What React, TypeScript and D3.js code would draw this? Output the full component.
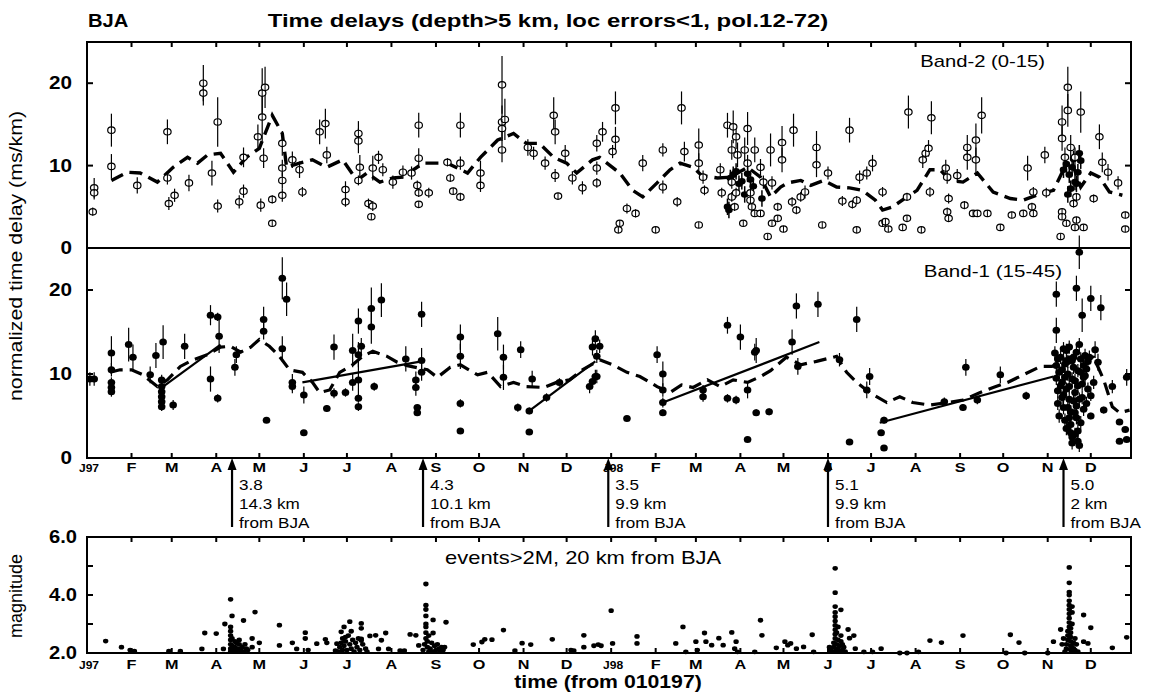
import React from "react";
import * as d3 from "d3";

// ---------- DATA ----------
const monthDays = [0, 31, 59, 90, 120, 151, 181, 212, 243, 273, 304, 334, 365, 396, 424, 455, 485, 516, 546, 577, 608, 638, 669, 699];
const monthLabels = ["J97", "F", "M", "A", "M", "J", "J", "A", "S", "O", "N", "D", "J98", "F", "M", "A", "M", "J", "J", "A", "S", "O", "N", "D"];
const delayTicks = [0, 10, 20];
const magTicks = [2, 3, 4, 5, 6];
const magLabels = ["2.0", "", "4.0", "", "6.0"];

// Band-2 (0-15): [day, delay, error]
const band2Points: number[][] = [
  [4,4.4,0.5],[5,7.3,1.2],[5,6.7,0.8],[17,14.3,2.0],[17,9.9,1.5],[35,7.6,1.0],[56,14.1,1.5],[56,8.5,0.8],[57,5.4,0.8],[61,6.4,0.8],[71,7.9,1.0],[81,20.0,2.2],[81,18.8,1.5],[87,9.1,1.5],[91,15.3,3.0],[91,5.1,0.8],[106,5.6,0.8],[109,6.9,0.8],[109,11.0,1.2],[121,5.2,0.8],[119,13.5,1.5],[122,18.8,3.0],[124,19.5,2.5],[122,15.9,3.0],[123,10.9,1.2],[129,5.9,0.5],[129,3.0,0.3],[136,6.4,0.8],[136,8.2,1.0],[136,9.7,1.0],[136,12.7,1.5],[143,10.7,1.0],[148,9.5,1.0],[150,6.8,0.6],[162,14.1,1.5],[166,15.1,1.8],[167,11.3,1.0],[180,7.1,1.0],[180,5.6,0.6],[189,13.9,1.5],[189,13.0,1.5],[190,9.8,1.5],[189,8.2,0.6],[196,5.4,0.6],[199,5.1,0.6],[198,3.8,0.3],[199,9.7,1.5],[203,11.0,0.8],[206,9.5,0.8],[213,8.0,0.8],[220,9.2,0.8],[226,9.1,0.8],[230,7.6,0.6],[231,6.7,0.5],[231,5.3,0.4],[231,10.9,1.2],[231,14.9,1.5],[238,6.7,0.6],[251,10.4,0.5],[253,8.5,0.5],[255,6.9,0.4],[260,14.9,1.5],[260,10.3,0.8],[260,6.2,0.5],[274,9.1,1.5],[274,7.6,0.8],[289,19.8,3.5],[289,15.3,2.0],[289,14.5,1.5],[291,15.6,2.5],[289,11.9,1.5],[307,12.2,1.0],[311,11.5,0.8],[319,10.3,0.8],[325,16.1,2.2],[326,14.1,1.5],[326,8.8,0.8],[328,6.3,0.4],[333,11.5,1.0],[338,8.5,0.8],[345,7.3,0.8],[355,7.9,0.6],[355,12.7,1.0],[355,9.7,0.8],[359,14.1,1.2],[366,11.7,0.8],[368,17.0,2.0],[368,13.2,1.5],[370,2.2,0.3],[371,3.0,0.3],[376,4.8,0.6],[382,4.2,0.5],[387,10.3,1.0],[396,2.2,0.3],[401,11.9,0.8],[401,7.4,0.8],[411,5.6,0.6],[414,17.0,2.0],[416,11.7,1.2],[426,2.8,0.3],[426,12.5,2.0],[426,10.3,1.2],[429,8.6,0.8],[430,7.0,0.6],[441,9.5,0.8],[442,6.7,0.6],[446,14.9,1.5],[449,11.9,1.2],[450,14.7,2.0],[452,13.5,1.5],[449,8.0,0.8],[449,6.2,0.6],[451,5.0,0.5],[452,6.7,0.6],[453,11.3,1.5],[457,3.0,0.3],[458,11.9,1.5],[460,10.3,1.0],[460,14.5,2.0],[462,6.7,0.6],[462,5.8,0.5],[463,5.0,0.5],[465,4.2,0.4],[469,4.2,0.4],[465,11.9,1.5],[474,1.4,0.2],[476,11.9,2.0],[477,7.9,0.8],[477,3.0,0.3],[481,3.6,0.3],[481,5.0,0.5],[469,9.8,1.0],[471,8.0,0.8],[484,12.8,2.0],[484,10.7,1.5],[485,2.3,0.3],[491,5.6,0.6],[492,14.3,2.0],[494,4.6,0.5],[497,6.2,0.6],[500,6.8,0.8],[508,12.2,2.0],[508,10.1,1.5],[512,2.8,0.3],[516,9.1,0.8],[526,5.7,0.6],[531,14.3,1.5],[533,5.3,0.5],[536,2.2,0.3],[536,5.8,0.5],[538,8.6,0.8],[543,9.1,0.8],[547,10.3,1.0],[554,6.8,0.6],[554,3.0,0.3],[556,3.2,0.3],[558,2.3,0.3],[568,2.5,0.3],[571,3.6,0.4],[571,6.2,0.5],[572,16.5,2.0],[581,2.2,0.3],[582,10.7,1.0],[584,11.5,1.0],[586,12.1,1.0],[588,15.8,2.0],[587,6.8,0.6],[598,9.7,1.0],[599,8.6,0.8],[600,6.0,0.6],[599,4.4,0.5],[600,3.6,0.4],[606,8.8,0.8],[611,5.2,0.5],[613,12.2,1.5],[613,11.0,1.5],[617,4.2,0.4],[619,13.1,2.0],[619,10.7,1.5],[620,4.2,0.4],[623,16.1,2.2],[627,4.2,0.4],[636,2.5,0.3],[644,4.0,0.4],[652,4.2,0.4],[655,9.7,1.5],[658,5.0,0.5],[659,4.2,0.4],[659,6.8,0.6],[667,11.3,1.0],[668,6.7,0.6],[678,1.4,0.2],[679,13.3,1.5],[679,15.3,2.0],[679,4.4,0.4],[679,3.8,0.3],[681,11.0,1.2],[683,19.5,2.5],[683,16.7,2.0],[685,12.2,1.5],[688,11.0,1.2],[682,3.0,0.3],[688,2.5,0.3],[689,3.4,0.3],[692,16.5,2.5],[694,2.5,0.3],[689,6.2,0.5],[687,5.4,0.5],[701,6.0,0.5],[705,13.5,1.5],[707,10.4,1.2],[711,9.2,1.0],[718,7.9,0.8],[723,4.0,0.4],[723,2.3,0.3]
];
// Band-2 dense overlapping clusters: [day, delay]
const band2Dense: number[][] = [
  [448,8.5],[450,8.9],[452,9.3],[454,7.8],[456,8.1],[458,6.5],[446,5.0],[447,4.6],[460,9.0],[462,8.3],[464,7.5],[470,6.0],
  [680,9.5],[682,10.2],[684,8.9],[686,9.8],[688,8.0],[690,9.2],[692,10.6],[685,7.2],[689,7.8],[691,11.5],[683,6.5],[687,10.8]
];
// Band-2 model (dashed): [day, delay]
const band2Model: number[][] = [
  [17,8.2],[28,9.2],[37,9.1],[49,8.0],[60,9.8],[70,11],[77,10.3],[84,11.3],[93,11.5],[102,9.2],[111,11],[120,12.1],[129,16.1],[136,13.9],[139,9.8],[148,10.3],[157,10.7],[167,9.8],[178,10.7],[188,8.2],[195,9.1],[204,8.0],[213,8.5],[220,8.6],[234,10.3],[251,10.3],[265,9.1],[274,11],[286,13.1],[297,13.9],[306,12.7],[315,12.7],[325,11],[334,10.3],[341,9.1],[352,10.7],[357,11],[371,9.1],[380,7.0],[387,6.2],[397,7.9],[406,9.5],[413,10.3],[422,9.8],[428,8.8],[439,8.5],[448,8.6],[460,9.8],[469,8.6],[476,6.2],[483,7.4],[488,7.9],[497,8.2],[504,7.6],[513,8.2],[522,7.4],[531,7.3],[540,7.0],[549,5.8],[554,4.6],[561,5.0],[571,6.2],[578,7.0],[587,9.5],[594,9.5],[601,8.2],[610,8.0],[620,9.1],[631,6.8],[643,6.0],[652,5.8],[664,6.6],[673,7.0],[680,9.5],[687,9.8],[692,7.4],[699,9.1],[705,8.6],[712,6.8],[721,6.4]
];

// Band-1 (15-45): [day, delay, error]
const band1Points: number[][] = [
  [2,9.4,0.8],[5,9.4,0.8],[17,12.5,2.0],[17,10.5,0.8],[17,9.0,0.6],[17,8.4,0.6],[17,7.9,0.6],[29,13.5,2.0],[32,12.0,1.5],[44,9.9,1.0],[48,12.2,1.5],[53,13.8,2.0],[52,9.3,0.6],[52,8.5,0.5],[52,7.9,0.5],[52,7.3,0.5],[52,6.7,0.5],[52,6.1,0.5],[60,6.3,0.6],[68,13.3,1.5],[86,17.0,1.2],[86,9.4,1.5],[91,16.8,0.5],[91,7.1,0.5],[92,14.5,2.0],[103,10.8,1.0],[104,12.3,1.0],[123,16.5,1.5],[123,15.1,1.0],[125,4.5,0.3],[136,21.4,2.5],[139,18.9,2.0],[136,13.0,1.5],[143,9.0,1.0],[143,8.5,0.8],[151,7.5,1.0],[151,3.0,0.3],[167,5.9,0.4],[172,13.2,1.5],[172,7.7,0.6],[180,7.8,0.5],[185,12.8,2.0],[185,9.0,1.0],[189,16.3,1.5],[189,12.3,1.5],[189,9.3,2.0],[189,7.1,0.5],[189,6.1,0.5],[191,13.3,1.0],[198,17.8,2.5],[198,15.6,2.0],[200,8.5,0.5],[205,18.8,2.0],[222,11.8,1.5],[229,9.3,1.0],[229,8.4,1.0],[230,6.0,0.3],[230,5.4,0.3],[233,17.1,1.5],[233,11.6,1.5],[233,10.2,1.0],[260,14.4,1.5],[260,12.1,1.5],[260,6.5,0.5],[260,3.2,0.3],[286,14.8,2.0],[290,12.0,1.5],[290,9.6,1.5],[300,6.0,0.5],[302,12.9,1.0],[308,5.6,0.4],[308,3.1,0.3],[310,9.4,1.0],[320,7.2,0.5],[329,9.0,0.5],[350,8.5,0.8],[352,9.1,0.8],[354,9.7,0.8],[354,14.2,1.0],[352,13.2,1.0],[357,13.3,0.8],[355,12.1,0.8],[355,9.7,0.8],[376,4.7,0.3],[397,12.3,1.0],[401,10.0,1.5],[401,8.1,0.8],[401,6.6,0.6],[401,5.4,0.4],[429,8.1,0.6],[429,7.3,0.6],[446,15.8,1.0],[446,7.1,0.5],[452,6.9,0.5],[455,14.4,1.5],[460,8.1,1.0],[460,2.2,0.3],[466,12.8,1.5],[466,5.4,0.4],[465,12.6,1.0],[475,5.5,0.4],[491,13.8,1.5],[494,18.1,1.5],[495,10.9,1.0],[509,18.3,1.5],[524,11.7,0.8],[531,1.9,0.3],[536,16.5,1.5],[543,8.1,1.0],[545,9.7,1.0],[553,3.0,0.3],[555,4.5,0.4],[555,1.2,0.3],[597,6.7,0.5],[610,6.0,0.4],[612,10.8,1.0],[620,6.9,0.5],[636,9.9,1.0],[654,7.4,0.5],[675,19.5,1.5],[675,15.2,1.5],[689,20.2,1.5],[691,24.5,2.0],[693,17.0,2.0],[699,19.0,1.5],[699,7.4,0.6],[699,5.0,0.4],[706,17.9,1.5],[702,12.9,1.0],[704,11.4,1.0],[701,9.0,0.8],[708,5.7,0.4],[714,8.5,0.8],[719,4.3,0.3],[723,3.4,0.3],[719,2.0,0.3],[724,2.2,0.3],[724,9.6,1.0]
];
// Band-1 dense cluster near the Nov-98 event: [day, delay]
const band1Cluster: number[][] = [
  [674,12.5],[675,11.0],[675,9.5],[676,8.0],[676,6.5],[677,5.0],[678,12.0],[679,10.5],[679,9.0],[680,7.5],[680,6.0],[681,4.5],[682,3.5],[682,12.8],[683,11.5],[683,10.0],[684,8.5],[684,7.0],[685,5.5],[685,4.0],[686,2.5],[686,1.8],[687,12.0],[687,10.8],[688,9.2],[688,7.8],[689,6.2],[689,4.8],[690,3.2],[690,2.0],[691,1.5],[691,13.5],[692,11.8],[692,10.2],[693,8.8],[693,7.2],[694,5.8],[695,12.2],[695,9.8],[696,6.5],[697,11.5],[697,8.2],[698,12.0],[680,13.0],[684,13.2],
  [676,11.8],[677,10.2],[678,8.6],[679,7.2],[681,11.2],[681,9.6],[682,8.2],[683,6.0],[684,4.8],[685,3.0],[686,9.4],[686,11.6],[687,6.8],[688,5.4],[688,2.8],[689,12.6],[690,10.4],[690,8.6],[691,7.0],[692,4.2],[694,9.6],[694,11.0],[696,10.6]
];
// Band-1 model (dashed)
const band1Model: number[][] = [
  [16,10.2],[23,10.5],[31,10.5],[39,9.9],[49,8.5],[56,9.3],[65,10.9],[74,11.7],[84,12.3],[93,13.2],[100,13.3],[107,12.6],[114,13.2],[120,14.1],[127,13.3],[134,12.1],[141,10.5],[150,10.2],[157,9.0],[162,7.8],[169,8.1],[176,10.2],[185,11.1],[192,12.1],[199,12.7],[209,12.1],[216,11.4],[223,11.0],[237,10.5],[244,9.6],[253,10.8],[260,11.1],[272,9.9],[279,10.2],[288,8.5],[297,9.0],[306,8.5],[318,8.4],[327,9.0],[336,9.3],[345,10.5],[357,11.7],[366,11.1],[376,10.2],[385,9.7],[397,8.5],[406,7.8],[414,8.7],[422,8.4],[432,9.3],[441,8.5],[450,9.3],[460,9.0],[469,9.7],[476,10.4],[487,12.0],[497,11.1],[508,11.5],[522,12.1],[529,10.2],[536,9.0],[545,7.8],[557,6.6],[566,7.3],[575,6.6],[587,6.3],[599,6.6],[610,6.9],[622,7.8],[631,8.4],[641,9.0],[652,9.9],[664,10.9],[672,10.9],[684,12.0],[694,12.1],[701,12.0],[708,9.3],[714,6.1],[719,5.4],[726,5.7]
];
// Band-1 linear trends after events
const band1Trends: number[][][] = [
  [[53,8.5],[93,13.5]],
  [[150,9.0],[233,11.5]],
  [[307,5.5],[354,11.5]],
  [[401,6.6],[510,13.8]],
  [[552,4.2],[673,9.7]]
];

// Significant events
const eventDays = [101, 234, 363, 516, 680];
const eventMags = ["3.8", "4.3", "3.5", "5.1", "5.0"];
const eventDists = ["14.3 km", "10.1 km", "9.9 km", "9.9 km", "2 km"];

// Events > 2M within 20 km: [day, magnitude]
const magEvents: number[][] = [
  [13,2.41],[24,2.2],[30,2.1],[33,2.06],[57,2.06],[65,2.06],[80,2.14],[82,2.69],[90,2.67],[95,2.14],[96,3.0],[100,3.85],[101,3.28],
  [100,2.05],[100,2.15],[100,2.3],[100,2.45],[100,2.6],[100,2.75],[100,2.9],[101,2.5],[101,2.25],[102,2.1],[103,2.2],[104,2.35],[104,2.05],[105,2.15],[106,2.3],[107,2.1],[108,2.2],[109,2.05],[110,2.3],[111,2.15],[112,2.1],[103,2.4],[106,2.45],
  [109,3.12],[117,3.41],[115,2.2],[120,2.35],[115,2.5],[134,2.96],[134,2.26],[143,2.35],[146,2.14],[152,2.7],[152,2.5],[154,2.1],[160,2.32],[166,2.47],[167,2.35],[173,2.08],[174,2.32],[177,2.73],[179,2.9],[183,3.08],
  [175,2.05],[176,2.2],[177,2.35],[178,2.5],[178,2.1],[179,2.25],[180,2.4],[181,2.1],[182,2.6],[183,2.3],[184,2.15],[185,2.45],[186,2.05],[187,2.35],[188,2.2],[189,2.5],[190,2.1],[192,2.3],[194,2.15],[195,2.05],[180,2.55],[184,2.75],
  [191,3.02],[191,2.85],[191,2.49],[191,2.43],[197,2.59],[201,2.61],[205,2.44],[203,2.14],[208,2.69],[210,2.14],[218,2.08],[221,2.08],[225,2.64],[229,2.61],[231,2.26],
  [234,2.1],[235,2.3],[236,2.5],[236,2.7],[236,2.9],[236,3.0],[237,2.2],[237,2.4],[238,2.05],[238,2.6],[239,2.15],[240,2.35],[241,2.05],[242,2.25],[243,2.1],[244,2.3],[245,2.15],[246,2.05],[247,2.2],[248,2.1],[236,3.5],[236,3.65],[236,3.28],[236,4.38],[241,3.14],[241,2.69],[250,3.06],[249,2.2],
  [269,2.29],[275,2.38],[277,2.47],[282,2.46],[290,2.79],[298,2.08],[303,2.34],[309,2.29],[324,2.47],[337,2.1],[339,2.08],[346,2.61],[346,2.2],[356,2.29],
  [353,2.25],[358,2.25],[365,3.46],[366,2.33],[383,2.57],[383,2.33],[410,2.33],[415,2.9],[417,2.04],[424,2.39],[425,2.1],[430,2.69],[431,2.39],[435,2.27],[440,2.51],[443,2.27],[449,2.71],[451,2.15],[452,2.39],[453,2.04],[465,2.04],[469,3.13],[470,2.61],[480,2.18],[486,2.39],[488,2.27],[490,2.33],[494,2.15],[499,2.21],[505,2.63],[506,2.04],
  [520,2.05],[520,2.2],[520,2.35],[521,2.5],[521,2.65],[521,2.8],[521,2.95],[521,3.1],[521,3.25],[521,3.4],[521,3.6],[522,2.1],[522,2.3],[523,2.15],[523,2.45],[524,2.05],[524,2.25],[525,2.4],[525,2.6],[526,2.1],[526,2.3],[527,2.2],[528,2.05],[522,2.7],[523,2.9],[525,3.49],[521,4.08],[521,4.92],[518,2.1],[517,2.2],
  [530,2.81],[531,2.51],[534,2.6],[535,2.15],[541,2.04],[547,2.04],[553,2.15],[566,2.0],[571,2.0],[579,2.04],[587,2.43],[595,2.36],[610,2.6],[640,2.0],[643,2.63],[649,2.36],[653,2.0],[669,2.0],[673,2.39],
  [681,2.05],[682,2.15],[682,2.3],[683,2.45],[683,2.6],[683,2.75],[684,2.9],[684,3.05],[684,3.2],[684,3.35],[684,3.5],[684,3.65],[684,3.8],[684,4.0],[684,4.1],[684,4.42],[684,4.95],[685,2.1],[685,2.25],[685,2.4],[685,2.55],[685,2.7],[685,2.85],[686,3.0],[686,2.2],[686,2.05],[687,2.35],[687,2.15],[688,2.5],[688,2.1],[689,2.3],[690,2.05],[678,2.81],[680,2.5],[679,2.3],[686,3.4],[686,3.6],
  [694,3.31],[694,2.39],[697,2.33],[699,2.87],[714,2.18],[724,2.54]
];

// ---------- LAYOUT ----------
const W = 1155, H = 696;
const X0 = 87, X1 = 1131;
const FONT = "'Liberation Sans', Arial, Helvetica, sans-serif";

type TP = { x: number; y: number; size: number; bold?: boolean; anchor?: string; sx?: number; children: React.ReactNode };
function T({ x, y, size, bold, anchor, sx = 1.2, children }: TP) {
  return (
    <text transform={`translate(${x},${y}) scale(${sx},1)`} textAnchor={anchor || "start"}
      fontFamily={FONT} fontWeight={bold ? "bold" : "normal"} fontSize={size} fill="#000">{children}</text>
  );
}

export default function App() {
  const x = d3.scaleLinear().domain([0, 727]).range([X0, X1]);
  const yTop = d3.scaleLinear().domain([0, 25]).range([248, 42]);
  const yMid = d3.scaleLinear().domain([0, 25]).range([458, 248]);
  const yMag = d3.scaleLinear().domain([2, 6]).range([653, 537]);

  const lineTop = d3.line<number[]>().x(d => x(d[0])).y(d => yTop(d[1]));
  const lineMid = d3.line<number[]>().x(d => x(d[0])).y(d => yMid(d[1]));

  const monthTicks = (yBase: number, dir: number, key: string) =>
    monthDays.map((d, i) => (
      <line key={key + i} x1={x(d)} x2={x(d)} y1={yBase} y2={yBase + dir * 5} stroke="#000" strokeWidth={2} />
    ));
  const monthText = (yBase: number, key: string) =>
    monthDays.map((d, i) => {
      const small = monthLabels[i].length > 1;
      return (
        <T key={key + i} x={x(d) + (small ? 2 : 0)} y={yBase} anchor="middle" bold size={small ? 10.5 : 12.5} sx={small ? 1.15 : 1.3}>
          {monthLabels[i]}
        </T>
      );
    });

  return (
    <svg width={W} height={H} style={{ position: "absolute", left: 0, top: 0, background: "#fff" }}>
      <rect x={0} y={0} width={W} height={H} fill="#fff" />
      {/* Titles */}
      <T x={88} y={27} size={18} bold sx={1.12}>BJA</T>
      <T x={548} y={27} size={18} bold anchor="middle" sx={1.33}>
        Time delays (depth&gt;5 km, loc errors&lt;1, pol.12-72)
      </T>

      {/* ---------- TOP PANEL (Band-2) ---------- */}
      <g>
        {band2Points.map((p, i) => (
          <line key={"e2" + i} x1={x(p[0])} x2={x(p[0])} y1={yTop(p[1] - p[2])} y2={yTop(p[1] + p[2])} stroke="#000" strokeWidth={1.2} />
        ))}
        {band2Dense.map((p, i) => (
          <g key={"d2" + i}>
            <line x1={x(p[0])} x2={x(p[0])} y1={yTop(p[1] - 1)} y2={yTop(p[1] + 1)} stroke="#000" strokeWidth={1.5} />
            <ellipse cx={x(p[0])} cy={yTop(p[1])} rx={3.8} ry={3.3} fill="#000" />
          </g>
        ))}
        <path d={lineTop(band2Model) || ""} fill="none" stroke="#000" strokeWidth={3.4} strokeDasharray="13 7" />
        {band2Points.map((p, i) => (
          <ellipse key={"c2" + i} cx={x(p[0])} cy={yTop(p[1])} rx={3.7} ry={3.2} fill="#fff" stroke="#000" strokeWidth={1.2} />
        ))}
        {band2Points.map((p, i) => (
          <line key={"m2" + i} x1={x(p[0])} x2={x(p[0])} y1={yTop(p[1]) - 3.2} y2={yTop(p[1]) + 3.2} stroke="#000" strokeWidth={1} />
        ))}
        <T x={1045} y={67} size={17} anchor="end" sx={1.19}>Band-2 (0-15)</T>
        {monthTicks(42, 1, "tt")}
        {delayTicks.map(t => (
          <g key={"yt2" + t}>
            <line x1={X0} x2={X0 + 6} y1={yTop(t)} y2={yTop(t)} stroke="#000" strokeWidth={2} />
            <line x1={X1} x2={X1 - 6} y1={yTop(t)} y2={yTop(t)} stroke="#000" strokeWidth={2} />
            <T x={72} y={yTop(t) + 6} size={18} bold anchor="end" sx={1.15}>{t}</T>
          </g>
        ))}
        <rect x={X0} y={42} width={X1 - X0} height={206} fill="none" stroke="#000" strokeWidth={2} />
      </g>

      {/* ---------- MIDDLE PANEL (Band-1) ---------- */}
      <g>
        {band1Points.map((p, i) => (
          <line key={"e1" + i} x1={x(p[0])} x2={x(p[0])} y1={yMid(p[1] - p[2])} y2={yMid(p[1] + p[2])} stroke="#000" strokeWidth={1.2} />
        ))}
        {band1Cluster.map((p, i) => (
          <g key={"k1" + i}>
            <line x1={x(p[0])} x2={x(p[0])} y1={yMid(p[1] - 0.8)} y2={yMid(p[1] + 0.8)} stroke="#000" strokeWidth={1.2} />
            <ellipse cx={x(p[0])} cy={yMid(p[1])} rx={3.8} ry={3.5} fill="#000" />
          </g>
        ))}
        {band1Trends.map((t, i) => (
          <path key={"tr" + i} d={lineMid(t) || ""} fill="none" stroke="#000" strokeWidth={2.2} />
        ))}
        <path d={lineMid(band1Model) || ""} fill="none" stroke="#000" strokeWidth={3.2} strokeDasharray="13 7" />
        {band1Points.map((p, i) => (
          <ellipse key={"c1" + i} cx={x(p[0])} cy={yMid(p[1])} rx={3.8} ry={3.5} fill="#000" />
        ))}
        <T x={1062} y={277} size={17} anchor="end" sx={1.21}>Band-1 (15-45)</T>
        {monthTicks(458, -1, "mt")}
        {monthText(472, "ml")}
        {delayTicks.map(t => (
          <g key={"yt1" + t}>
            <line x1={X0} x2={X0 + 6} y1={yMid(t)} y2={yMid(t)} stroke="#000" strokeWidth={2} />
            <line x1={X1} x2={X1 - 6} y1={yMid(t)} y2={yMid(t)} stroke="#000" strokeWidth={2} />
            <T x={72} y={yMid(t) + 6} size={18} bold anchor="end" sx={1.15}>{t}</T>
          </g>
        ))}
        <rect x={X0} y={248} width={X1 - X0} height={210} fill="none" stroke="#000" strokeWidth={2} />
      </g>

      {/* y label */}
      <text transform={`translate(22,${256}) rotate(-90)`} textAnchor="middle" fontFamily={FONT} fontSize={19}
        textLength={290} lengthAdjust="spacingAndGlyphs">
        normalized time delay (ms/km)
      </text>

      {/* ---------- EVENT ANNOTATIONS ---------- */}
      {eventDays.map((d, i) => (
        <g key={"ev" + i}>
          <line x1={x(d)} x2={x(d)} y1={527} y2={466} stroke="#000" strokeWidth={2.2} />
          <path d={`M${x(d) - 4.5},${470} L${x(d)},${458} L${x(d) + 4.5},${470} Z`} fill="#000" />
          <T x={x(d) + 7} y={490} size={15} sx={1.14}>{eventMags[i]}</T>
          <T x={x(d) + 7} y={509} size={15} sx={1.14}>{eventDists[i]}</T>
          <T x={x(d) + 7} y={528} size={15} sx={1.14}>from BJA</T>
        </g>
      ))}

      {/* ---------- BOTTOM PANEL (magnitudes) ---------- */}
      <g>
        {magEvents.map((p, i) => (
          <ellipse key={"mg" + i} cx={x(p[0])} cy={yMag(p[1])} rx={2.7} ry={2.4} fill="#000" />
        ))}
        <T x={445} y={564} size={18} sx={1.22}>events&gt;2M, 20 km from BJA</T>
        {monthTicks(537, 1, "bt")}
        {monthTicks(653, -1, "bb")}
        {monthText(669, "bl")}
        {magTicks.map((t, i) => (
          <g key={"ym" + t}>
            <line x1={X0} x2={X0 + 6} y1={yMag(t)} y2={yMag(t)} stroke="#000" strokeWidth={2} />
            <line x1={X1} x2={X1 - 6} y1={yMag(t)} y2={yMag(t)} stroke="#000" strokeWidth={2} />
            {magLabels[i] && (
              <T x={77} y={yMag(t) + 6} size={18} bold anchor="end" sx={1.12}>{magLabels[i]}</T>
            )}
          </g>
        ))}
        <rect x={X0} y={537} width={X1 - X0} height={116} fill="none" stroke="#000" strokeWidth={2} />
        <text transform={`translate(22,${596}) rotate(-90)`} textAnchor="middle" fontFamily={FONT} fontSize={18}>magnitude</text>
        <T x={608} y={688} size={18} bold anchor="middle" sx={1.18}>time (from 010197)</T>
      </g>
    </svg>
  );
}
